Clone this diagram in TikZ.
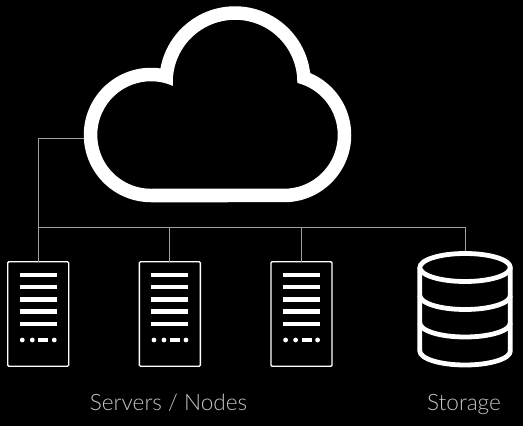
\documentclass[tikz,border=0pt]{standalone}
\usepackage{fontspec}
\setmainfont{Lato}[UprightFont=* Light]
\definecolor{wire}{HTML}{A0A0A0}
\definecolor{labelgrey}{HTML}{C4C4C4}
\tikzset{
  serverbox/.style={draw=white,line width=1.3pt,rounded corners=1.2pt,minimum width=61pt,minimum height=104.6pt,inner sep=0pt,outer sep=0pt},
  bar/.style={fill=white,draw=none},
  wireline/.style={draw=wire,line width=1pt},
  caption/.style={text=labelgrey,font=\fontsize{22.6}{24}\selectfont,inner sep=0pt,anchor=base}
}
\newcommand{\serverface}[1]{%
  \begin{scope}[shift={(#1,0)}]
    \foreach \yy in {151,139,126.7,114.3,102}
      \fill[bar] (19.7,\yy-2.4) rectangle (56.7,\yy+2.4);
    \fill[bar] (22.3,86) circle (2.4);
    \fill[bar] (32.3,86) circle (2.4);
    \fill[bar] (38.3,83.7) rectangle (48.3,88.3);
    \fill[bar] (54.3,86) circle (2.4);
  \end{scope}}
\begin{document}
\begin{tikzpicture}[x=1pt,y=1pt]
\useasboundingbox (0,0) rectangle (523,426);
\fill[black] (0,0) rectangle (523,426);
% cloud: outer and inner outline
\fill[white,even odd rule]
  (160.47,357.57) arc[start angle=81.9,end angle=270,radius=67.25]
  -- (284,223.75) arc[start angle=270,end angle=427.1,radius=67.25]
  arc[start angle=6.8,end angle=169.7,radius=75.75] -- cycle
  (172.9,340.1) arc[start angle=66,end angle=270,radius=53.75]
  -- (284,237.25) arc[start angle=270,end angle=435.7,radius=53.75]
  arc[start angle=-0.8,end angle=183.6,radius=62.25] -- cycle;
\coordinate (cloudw) at (84,287.5);
% servers
\node[serverbox] (s1) at (38.2,112) {};
\node[serverbox] (s2) at (169.85,112) {};
\node[serverbox] (s3) at (301.5,112) {};
\serverface{0}
\serverface{131.65}
\serverface{263.3}
% storage
\begin{scope}[line width=4.8pt,line join=round]
  \draw[white] (465.05,158.5) ellipse [x radius=45.25,y radius=14];
  \draw[white] (419.8,158.5) -- (419.8,75) arc[start angle=180,end angle=360,x radius=45.25,y radius=14] -- (510.3,158.5);
  \draw[white] (419.8,130.5) arc[start angle=180,end angle=360,x radius=45.25,y radius=14];
  \draw[white] (419.8,103) arc[start angle=180,end angle=360,x radius=45.25,y radius=14];
\end{scope}
\coordinate (storagetop) at (465,175);
% connectors
\coordinate (busw) at (38,198.3);
\coordinate (bus2) at (169.85,198.3);
\coordinate (bus3) at (301.5,198.3);
\coordinate (buse) at (465,198.3);
\draw[wireline] (cloudw) -| (s1.north);
\draw[wireline] (busw) -- (buse) -- (storagetop);
\draw[wireline] (bus2) -- (s2.north);
\draw[wireline] (bus3) -- (s3.north);
% labels
\node[caption] (lab1) at (168.5,15.3) {Servers / Nodes};
\node[caption] (lab2) at (464,15.3) {Storage};
\end{tikzpicture}
\end{document}
